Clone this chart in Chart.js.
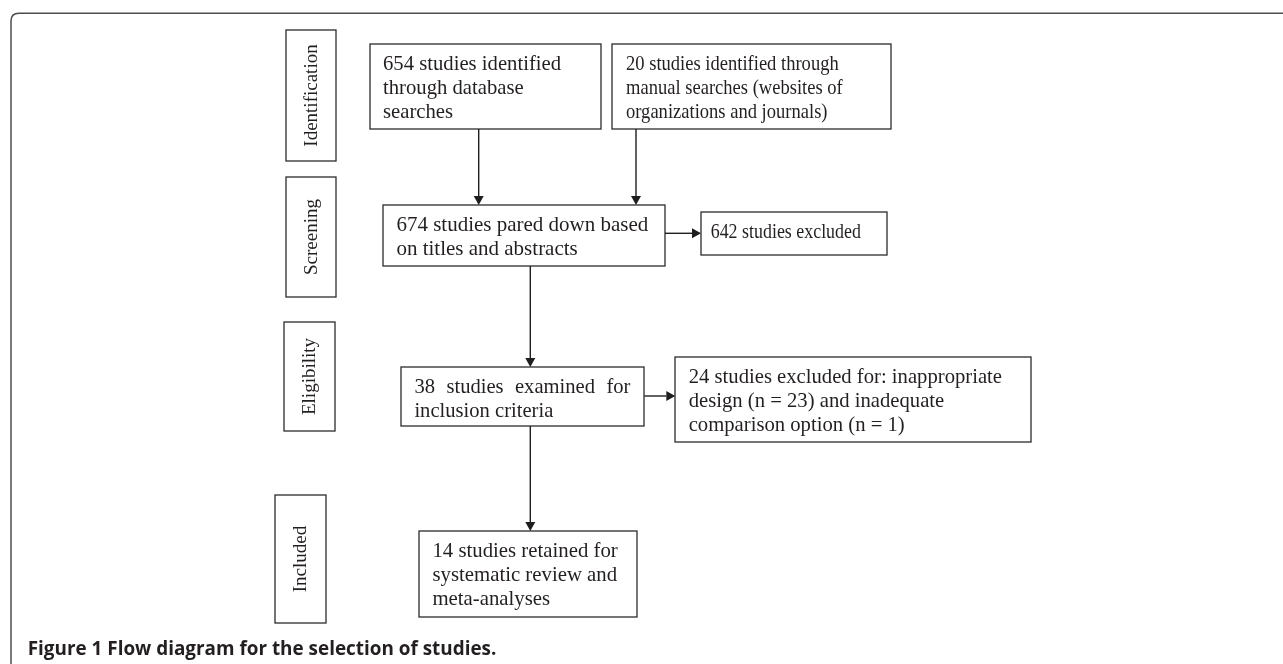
<!DOCTYPE html>
<html>
<head>
<meta charset="utf-8">
<script src="https://cdn.jsdelivr.net/npm/chart.js@4/dist/chart.umd.min.js"></script>
<style>
  body { margin: 0; background: #fff; }
  canvas { display: block; }
</style>
</head>
<body>
<canvas id="flow" width="1283" height="664"></canvas>
<script>
// stages on the left
const stageLabels = ['Identification', 'Screening', 'Eligibility', 'Included'];

// study counts in the boxes
const studyCounts = [654, 20, 674, 642, 38, 24, 14];
const excludedDesign = 23;
const excludedComparison = 1;

// text of every box, line by line
const boxLines = [
    [`${studyCounts[0]} studies identified`, 'through database', 'searches'],
    [`${studyCounts[1]} studies identified through`, 'manual searches (websites of', 'organizations and journals)'],
    [`${studyCounts[2]} studies pared down based`, 'on titles and abstracts'],
    [`${studyCounts[3]} studies excluded`],
    [`${studyCounts[4]} studies examined for`, 'inclusion criteria'],
    [`${studyCounts[5]} studies excluded for: inappropriate`, `design (n = ${excludedDesign}) and inadequate`, `comparison option (n = ${excludedComparison})`],
    [`${studyCounts[6]} studies retained for`, 'systematic review and', 'meta-analyses']
];

const captionBold = 'Figure 1';
const captionText = ' Flow diagram for the selection of studies.';

// layout, in scale units (x 0..1283, y 0..664)
const stageBoxes = [
    [286, 30, 336, 161],
    [286, 177, 336, 297],
    [284, 322, 335, 431],
    [275, 495, 326, 623]
];
const flowBoxes = [
    {r: [370, 44, 601, 129], pad: 13, sx: 0.985},
    {r: [612, 44, 891, 129], pad: 14, sx: 0.883},
    {r: [383, 205, 665, 266], pad: 13.4, sx: 1.0},
    {r: [701, 212, 887, 255], pad: 9.7, sx: 0.853},
    {r: [401, 367, 644, 426], pad: 13.4, sx: 0.98, justify: 216},
    {r: [675, 357, 1031, 442], pad: 13.7, sx: 0.984},
    {r: [419, 531, 637, 617], pad: 13.4, sx: 0.99}
];
const arrows = [
    [478.7, 129, 478.7, 205],
    [636, 129, 636, 205],
    [665, 233.3, 701, 233.3],
    [530.3, 266, 530.3, 367],
    [644.3, 396, 675.3, 396],
    [530.3, 426, 530.3, 531]
];

const serif = '"Liberation Serif", "Times New Roman", serif';
const ink = '#231f20';

const flowPlugin = {
    id: 'flowPlugin',
    afterDraw(chart) {
        const ctx = chart.ctx;
        const px = v => chart.scales.x.getPixelForValue(v);
        const py = v => chart.scales.y.getPixelForValue(v);

        ctx.save();

        // rounded frame (top + left)
        ctx.strokeStyle = '#4d4d4d';
        ctx.lineWidth = 1.5;
        ctx.beginPath();
        ctx.moveTo(px(11), py(664));
        ctx.lineTo(px(11), py(21));
        ctx.quadraticCurveTo(px(11), py(13.3), px(19), py(13.3));
        ctx.lineTo(px(1283), py(13.3));
        ctx.stroke();

        // stage boxes with rotated labels
        ctx.strokeStyle = '#2b2b2b';
        ctx.lineWidth = 1.3;
        ctx.fillStyle = ink;
        ctx.font = `19px ${serif}`;
        ctx.textAlign = 'center';
        ctx.textBaseline = 'middle';
        stageBoxes.forEach((b, i) => {
            const x1 = px(b[0]), y1 = py(b[1]), x2 = px(b[2]), y2 = py(b[3]);
            ctx.strokeRect(x1, y1, x2 - x1, y2 - y1);
            ctx.save();
            ctx.translate((x1 + x2) / 2 + 1, (y1 + y2) / 2);
            ctx.rotate(-Math.PI / 2);
            ctx.fillText(stageLabels[i], 0, 0);
            ctx.restore();
        });

        // flow boxes
        ctx.font = `21px ${serif}`;
        ctx.textAlign = 'left';
        ctx.textBaseline = 'alphabetic';
        flowBoxes.forEach((b, i) => {
            const x1 = px(b.r[0]), y1 = py(b.r[1]), x2 = px(b.r[2]), y2 = py(b.r[3]);
            ctx.strokeRect(x1, y1, x2 - x1, y2 - y1);
            boxLines[i].forEach((line, k) => {
                const tx = x1 + b.pad;
                const ty = y1 + 26.3 + k * 23.7;
                ctx.save();
                ctx.translate(tx, ty);
                ctx.scale(b.sx, 1);
                if (b.justify && k === 0) {
                    const words = line.split(' ');
                    const target = b.justify / b.sx;
                    const used = words.reduce((s, w) => s + ctx.measureText(w).width, 0);
                    const gap = (target - used) / (words.length - 1);
                    let cx = 0;
                    words.forEach(w => {
                        ctx.fillText(w, cx, 0);
                        cx += ctx.measureText(w).width + gap;
                    });
                } else {
                    ctx.fillText(line, 0, 0);
                }
                ctx.restore();
            });
        });

        // arrows
        ctx.strokeStyle = '#1e1e1e';
        ctx.fillStyle = '#1e1e1e';
        ctx.lineWidth = 1.4;
        arrows.forEach(a => {
            const x1 = px(a[0]), y1 = py(a[1]), x2 = px(a[2]), y2 = py(a[3]);
            const ang = Math.atan2(y2 - y1, x2 - x1);
            const len = 9, half = 5;
            const bx = x2 - len * Math.cos(ang), by = y2 - len * Math.sin(ang);
            ctx.beginPath();
            ctx.moveTo(x1, y1);
            ctx.lineTo(bx, by);
            ctx.stroke();
            ctx.beginPath();
            ctx.moveTo(x2, y2);
            ctx.lineTo(bx - half * Math.sin(ang), by + half * Math.cos(ang));
            ctx.lineTo(bx + half * Math.sin(ang), by - half * Math.cos(ang));
            ctx.closePath();
            ctx.fill();
        });

        // caption
        const sans = '"Open Sans", "Noto Sans", sans-serif';
        ctx.font = `bold 16px ${sans}`;
        const full = ctx.measureText(captionBold + captionText).width;
        const size = 16 * 469 / full;
        ctx.font = `bold ${size}px ${sans}`;
        ctx.fillStyle = '#231f20';
        ctx.textBaseline = 'alphabetic';
        ctx.fillText(captionBold + captionText, px(27.7), py(655));

        ctx.restore();
    }
};

new Chart(document.getElementById('flow'), {
    type: 'scatter',
    data: {datasets: []},
    options: {
        responsive: false,
        animation: false,
        layout: {padding: 0},
        plugins: {
            legend: {display: false},
            tooltip: {enabled: false}
        },
        scales: {
            x: {type: 'linear', min: 0, max: 1283, display: false},
            y: {type: 'linear', min: 0, max: 664, reverse: true, display: false}
        }
    },
    plugins: [flowPlugin]
});
</script>
</body>
</html>
